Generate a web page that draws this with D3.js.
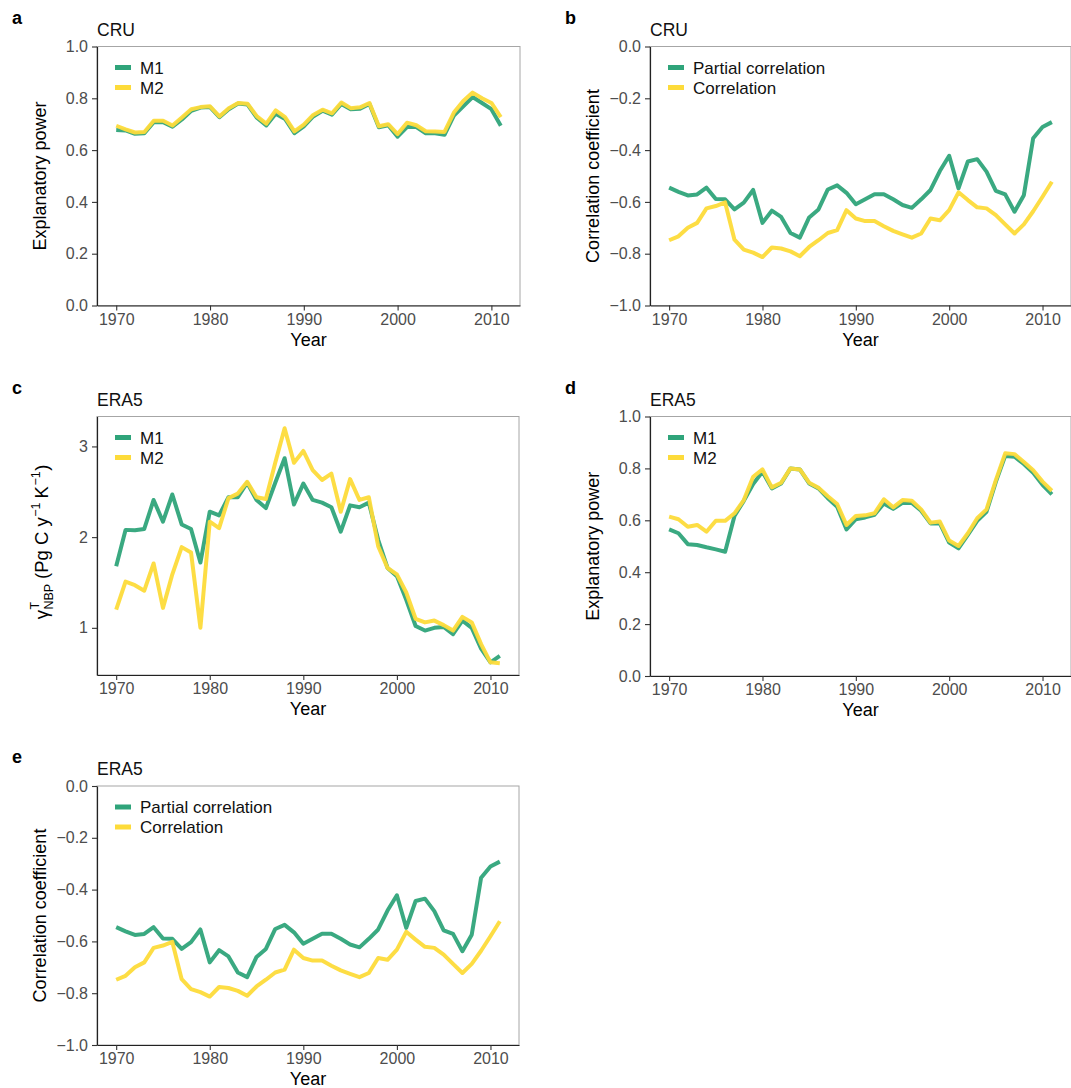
<!DOCTYPE html>
<html>
<head>
<meta charset="utf-8">
<script src="https://cdn.jsdelivr.net/npm/d3@7/dist/d3.min.js"></script>
<style>
  body { margin: 0; background: #fff; }
  svg { font-family: "Liberation Sans", Arial, Helvetica, sans-serif; }
</style>
</head>
<body>
<svg width="1071" height="1088"></svg>
<script>
const years = [1970, 1971, 1972, 1973, 1974, 1975, 1976, 1977, 1978, 1979,
    1980, 1981, 1982, 1983, 1984, 1985, 1986, 1987, 1988, 1989,
    1990, 1991, 1992, 1993, 1994, 1995, 1996, 1997, 1998, 1999,
    2000, 2001, 2002, 2003, 2004, 2005, 2006, 2007, 2008, 2009,
    2010, 2011];
const xTicks = [1970, 1980, 1990, 2000, 2010];

// a: CRU explanatory power
const aM1 = [0.678, 0.676, 0.663, 0.665, 0.708, 0.708, 0.690, 0.718, 0.752, 0.764,
    0.766, 0.727, 0.758, 0.780, 0.776, 0.725, 0.695, 0.740, 0.720, 0.665,
    0.692, 0.730, 0.752, 0.737, 0.778, 0.758, 0.760, 0.778, 0.688, 0.696,
    0.652, 0.689, 0.689, 0.665, 0.665, 0.659, 0.733, 0.769, 0.805, 0.782,
    0.758, 0.694];
const aM2 = [0.694, 0.680, 0.668, 0.670, 0.713, 0.713, 0.695, 0.726, 0.758, 0.766,
    0.769, 0.730, 0.762, 0.782, 0.779, 0.730, 0.702, 0.753, 0.727, 0.672,
    0.698, 0.736, 0.756, 0.742, 0.784, 0.762, 0.765, 0.782, 0.692, 0.700,
    0.662, 0.706, 0.696, 0.673, 0.672, 0.670, 0.745, 0.790, 0.822, 0.800,
    0.782, 0.727];

// b: CRU correlation coefficients
const bPartial = [-0.545, -0.561, -0.575, -0.571, -0.545, -0.589, -0.590, -0.629, -0.603, -0.554,
    -0.681, -0.634, -0.658, -0.720, -0.738, -0.660, -0.629, -0.552, -0.536, -0.565,
    -0.609, -0.590, -0.570, -0.570, -0.590, -0.612, -0.623, -0.590, -0.554, -0.481,
    -0.422, -0.548, -0.444, -0.435, -0.483, -0.557, -0.571, -0.638, -0.574, -0.354,
    -0.311, -0.292];
const bCorr = [-0.748, -0.733, -0.700, -0.681, -0.625, -0.616, -0.602, -0.746, -0.784, -0.796,
    -0.813, -0.776, -0.780, -0.791, -0.810, -0.774, -0.748, -0.720, -0.709, -0.632,
    -0.664, -0.674, -0.674, -0.694, -0.712, -0.725, -0.738, -0.722, -0.664, -0.671,
    -0.632, -0.563, -0.593, -0.621, -0.625, -0.651, -0.687, -0.722, -0.687, -0.636,
    -0.580, -0.522];

// c: ERA5 gamma NBP
const cM1 = [1.68, 2.08, 2.075, 2.09, 2.41, 2.17, 2.47, 2.14, 2.09, 1.72,
    2.28, 2.24, 2.44, 2.44, 2.60, 2.41, 2.32, 2.60, 2.87, 2.36,
    2.59, 2.41, 2.38, 2.33, 2.06, 2.35, 2.33, 2.38, 1.97, 1.66,
    1.57, 1.31, 1.02, 0.97, 1.00, 1.01, 0.93, 1.08, 1.00, 0.77,
    0.62, 0.69];
const cM2 = [1.20, 1.51, 1.47, 1.41, 1.71, 1.22, 1.59, 1.89, 1.83, 1.00,
    2.17, 2.10, 2.43, 2.48, 2.61, 2.44, 2.42, 2.82, 3.20, 2.82,
    2.95, 2.74, 2.63, 2.70, 2.28, 2.64, 2.41, 2.44, 1.90, 1.66,
    1.59, 1.39, 1.10, 1.06, 1.08, 1.03, 0.97, 1.12, 1.06, 0.82,
    0.62, 0.61];

// d: ERA5 explanatory power
const dM1 = [0.565, 0.550, 0.508, 0.505, 0.496, 0.488, 0.479, 0.617, 0.675, 0.740,
    0.787, 0.723, 0.742, 0.800, 0.796, 0.742, 0.723, 0.685, 0.652, 0.565,
    0.604, 0.611, 0.621, 0.665, 0.644, 0.667, 0.667, 0.637, 0.588, 0.588,
    0.514, 0.492, 0.544, 0.598, 0.633, 0.748, 0.848, 0.845, 0.817, 0.783,
    0.737, 0.700];
const dM2 = [0.614, 0.604, 0.575, 0.582, 0.556, 0.598, 0.598, 0.627, 0.678, 0.768,
    0.796, 0.727, 0.745, 0.800, 0.796, 0.745, 0.725, 0.693, 0.663, 0.582,
    0.617, 0.619, 0.627, 0.681, 0.650, 0.678, 0.675, 0.642, 0.591, 0.595,
    0.522, 0.501, 0.550, 0.608, 0.642, 0.755, 0.858, 0.855, 0.825, 0.793,
    0.749, 0.714];

// e: ERA5 correlation coefficients
const ePartial = [-0.545, -0.561, -0.575, -0.571, -0.545, -0.589, -0.590, -0.629, -0.603, -0.554,
    -0.681, -0.634, -0.658, -0.720, -0.738, -0.660, -0.629, -0.552, -0.536, -0.565,
    -0.609, -0.590, -0.570, -0.570, -0.590, -0.612, -0.623, -0.590, -0.554, -0.481,
    -0.422, -0.548, -0.444, -0.435, -0.483, -0.557, -0.571, -0.638, -0.574, -0.354,
    -0.311, -0.292];
const eCorr = [-0.748, -0.733, -0.700, -0.681, -0.625, -0.616, -0.602, -0.746, -0.784, -0.796,
    -0.813, -0.776, -0.780, -0.791, -0.810, -0.774, -0.748, -0.720, -0.709, -0.632,
    -0.664, -0.674, -0.674, -0.694, -0.712, -0.725, -0.738, -0.722, -0.664, -0.671,
    -0.632, -0.563, -0.593, -0.621, -0.625, -0.651, -0.687, -0.722, -0.687, -0.636,
    -0.580, -0.522];

const green = "#2fa47a",
    yellow = "#fddb3a";

const svg = d3.select("svg");

function panel(p) {
    const g = svg.append("g");

    const x = d3.scaleLinear()
        .domain([1970 - 2.05, 2011 + 2.05])
        .range([p.left, p.right]);
    const y = d3.scaleLinear()
        .domain(p.ydom)
        .range([p.bottom, p.top]);

    // panel frame (light), axis lines drawn on top
    g.append("rect")
        .attr("x", p.left).attr("y", p.top)
        .attr("width", p.right - p.left)
        .attr("height", p.bottom - p.top)
        .attr("fill", "none")
        .attr("stroke", "#a6a6a6")
        .attr("stroke-width", 1);

    const xa = g.append("g")
        .attr("transform", "translate(0," + p.bottom + ")")
        .call(d3.axisBottom(x).tickValues(xTicks).tickFormat(d3.format("d"))
            .tickSize(5).tickSizeOuter(0).tickPadding(3));
    const ya = g.append("g")
        .attr("transform", "translate(" + p.left + ",0)")
        .call(d3.axisLeft(y).tickValues(p.yticks).tickFormat(p.fmt)
            .tickSize(5).tickSizeOuter(0).tickPadding(4));

    [xa, ya].forEach(function(a) {
        a.select(".domain").attr("stroke", "#222").attr("stroke-width", 1.2);
        a.selectAll(".tick line").attr("stroke", "#333").attr("stroke-width", 1.1);
        a.selectAll(".tick text")
            .attr("fill", "#4d4d4d")
            .attr("font-size", 16)
            .attr("font-family", "Liberation Sans, Arial, sans-serif");
    });

    const line = d3.line()
        .x(function(d, i) { return x(years[i]); })
        .y(function(d) { return y(d); });

    p.series.forEach(function(s) {
        g.append("path")
            .datum(s.values)
            .attr("d", line)
            .attr("fill", "none")
            .attr("stroke", s.color)
            .attr("stroke-width", 4)
            .attr("stroke-linejoin", "round")
            .attr("stroke-opacity", 0.95);
    });

    // legend
    p.series.forEach(function(s, i) {
        const ly = p.top + 21 + i * 20;
        g.append("line")
            .attr("x1", p.left + 18).attr("x2", p.left + 34)
            .attr("y1", ly).attr("y2", ly)
            .attr("stroke", s.color)
            .attr("stroke-width", 5);
        g.append("text")
            .attr("x", p.left + 43).attr("y", ly)
            .attr("dy", "0.36em")
            .attr("font-size", 17)
            .attr("fill", "#111")
            .text(s.name);
    });

    // title, panel letter, axis titles
    g.append("text")
        .attr("x", p.left).attr("y", p.top - 11)
        .attr("font-size", 17.5)
        .attr("fill", "#111")
        .text(p.title);
    g.append("text")
        .attr("x", p.left - 85).attr("y", p.top - 23)
        .attr("font-size", 18)
        .attr("font-weight", "bold")
        .text(p.letter);
    g.append("text")
        .attr("x", (p.left + p.right) / 2).attr("y", p.bottom + 40)
        .attr("text-anchor", "middle")
        .attr("font-size", 18)
        .text("Year");
    if (p.ylab) {
        g.append("text")
            .attr("transform", "translate(" + (p.left - 51) + "," + ((p.top + p.bottom) / 2) + ") rotate(-90)")
            .attr("text-anchor", "middle")
            .attr("font-size", 18)
            .text(p.ylab);
    }
}

// y title of panel c: gamma with stacked super/subscript
function gammaLabel(bx, cy) {
    const outer = svg.append("g")
        .attr("transform", "translate(" + bx + "," + cy + ") rotate(-90)");
    const g = outer.append("g");
    const big = 18.5, small = 12.5;
    let xpos = 0;

    function piece(txt, size, dy) {
        const t = g.append("text")
            .attr("x", xpos).attr("y", dy)
            .attr("font-size", size)
            .text(txt);
        return t.node().getComputedTextLength();
    }

    xpos += piece("γ", big, 0) + 0.5;
    const w1 = piece("T", small, -9);
    const w2 = piece("NBP", small, 4.5);
    xpos += Math.max(w1, w2) + 5;
    xpos += piece("(Pg C y", big, 0) + 0.5;
    xpos += piece("−1", small, -8.5) + 4;
    xpos += piece("K", big, 0) + 0.5;
    xpos += piece("−1", small, -8.5) + 0.5;
    xpos += piece(")", big, 0);

    g.attr("transform", "translate(" + (-xpos / 2) + ",0)");
}

const f1 = d3.format(".1f");

panel({ letter: "a", title: "CRU", left: 97, right: 520, top: 46.5, bottom: 305.5,
    ydom: [0, 1], yticks: [0, 0.2, 0.4, 0.6, 0.8, 1.0], fmt: f1,
    ylab: "Explanatory power",
    series: [{ name: "M1", values: aM1, color: green }, { name: "M2", values: aM2, color: yellow }] });

panel({ letter: "b", title: "CRU", left: 650, right: 1071, top: 46.5, bottom: 305.5,
    ydom: [-1, 0], yticks: [-1, -0.8, -0.6, -0.4, -0.2, 0], fmt: f1,
    ylab: "Correlation coefficient",
    series: [{ name: "Partial correlation", values: bPartial, color: green }, { name: "Correlation", values: bCorr, color: yellow }] });

panel({ letter: "c", title: "ERA5", left: 97, right: 519, top: 416.5, bottom: 675,
    ydom: [0.48, 3.33], yticks: [1, 2, 3], fmt: d3.format("d"),
    ylab: null,
    series: [{ name: "M1", values: cM1, color: green }, { name: "M2", values: cM2, color: yellow }] });

panel({ letter: "d", title: "ERA5", left: 650, right: 1071, top: 416.5, bottom: 676,
    ydom: [0, 1], yticks: [0, 0.2, 0.4, 0.6, 0.8, 1.0], fmt: f1,
    ylab: "Explanatory power",
    series: [{ name: "M1", values: dM1, color: green }, { name: "M2", values: dM2, color: yellow }] });

panel({ letter: "e", title: "ERA5", left: 97, right: 519, top: 786, bottom: 1045,
    ydom: [-1, 0], yticks: [-1, -0.8, -0.6, -0.4, -0.2, 0], fmt: f1,
    ylab: "Correlation coefficient",
    series: [{ name: "Partial correlation", values: ePartial, color: green }, { name: "Correlation", values: eCorr, color: yellow }] });

gammaLabel(48, 542);
</script>
</body>
</html>
